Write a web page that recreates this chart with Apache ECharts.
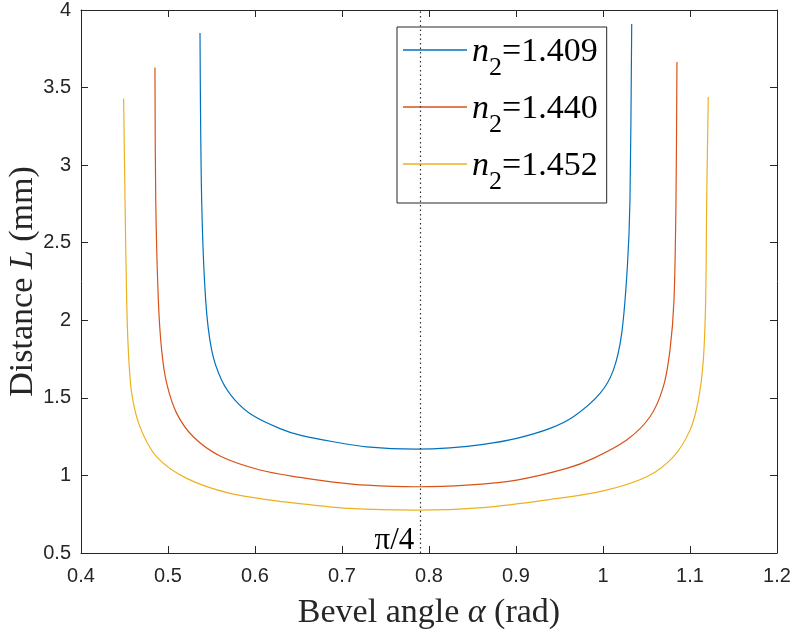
<!DOCTYPE html>
<html>
<head>
<meta charset="utf-8">
<script src="https://cdn.jsdelivr.net/npm/echarts@6/dist/echarts.min.js"></script>
<style>
html, body { margin: 0; padding: 0; background: #fff; }
#chart { width: 791px; height: 635px; }
</style>
</head>
<body>
<div id="chart"></div>
<script>
// values
var names = ['1.409', '1.440', '1.452'];
var colors = ['#0072BD', '#D95319', '#EDB120'];

var blueX = [0.5368, 0.5387, 0.5433, 0.5502, 0.5617, 0.5770, 0.5977, 0.6287, 0.6517, 0.690, 0.7284, 0.7847, 0.8241, 0.8624, 0.9008, 0.9391, 0.9659, 0.9966, 1.0119, 1.0215, 1.0280, 1.031, 1.033];
var blueY = [3.852, 2.775, 2.130, 1.808, 1.614, 1.486, 1.386, 1.302, 1.260, 1.217, 1.184, 1.170, 1.178, 1.200, 1.239, 1.303, 1.378, 1.529, 1.679, 1.916, 2.345, 2.775, 3.91];

var redX = [0.485, 0.4859, 0.4889, 0.4927, 0.4985, 0.5100, 0.5291, 0.5598, 0.6057, 0.6517, 0.690, 0.7284, 0.7847, 0.8433, 0.9008, 0.9582, 0.9889, 1.0272, 1.0540, 1.0693, 1.0770, 1.0816, 1.0839, 1.085];
var redY = [3.63, 2.775, 2.130, 1.808, 1.593, 1.400, 1.249, 1.125, 1.035, 0.987, 0.957, 0.937, 0.927, 0.937, 0.970, 1.045, 1.110, 1.228, 1.378, 1.571, 1.808, 2.130, 2.775, 3.665];

var yellowX = [0.449, 0.4506, 0.4525, 0.4544, 0.4583, 0.4678, 0.4870, 0.5215, 0.5713, 0.6249, 0.6517, 0.7092, 0.7847, 0.8624, 0.9391, 1.0003, 1.0502, 1.0808, 1.1, 1.1096, 1.1153, 1.118, 1.1192, 1.121];
var yellowY = [3.43, 2.775, 2.130, 1.808, 1.529, 1.313, 1.120, 0.981, 0.884, 0.836, 0.818, 0.787, 0.776, 0.793, 0.845, 0.900, 0.991, 1.120, 1.292, 1.486, 1.743, 2.130, 2.775, 3.44];

var piQuarter = 0.7854;

function pairs(xs, ys) {
  return xs.map(function (x, i) { return [x, ys[i]]; });
}

var axisColor = '#262626';
var serif = '"Liberation Serif", "Times New Roman", serif';
var sans = '"Liberation Sans", Arial, sans-serif';

var chartDom = document.getElementById('chart');
var chart = echarts.init(chartDom);

function boxAxis(pos, min, max, interval) {
  return {
    type: 'value',
    position: pos,
    min: min,
    max: max,
    interval: interval,
    axisLine: { show: true, onZero: false, lineStyle: { color: axisColor, width: 1 } },
    axisTick: { show: true, inside: true, length: 7, lineStyle: { color: axisColor } },
    axisLabel: { show: false },
    splitLine: { show: false }
  };
}

function curve(i, xs, ys) {
  return {
    name: names[i], type: 'line', data: pairs(xs, ys),
    showSymbol: false, symbol: 'none',
    smooth: 0.3,
    lineStyle: { color: colors[i], width: 1.2 }, itemStyle: { color: colors[i] }
  };
}

var option = {
  animation: false,
  backgroundColor: '#fff',
  grid: { left: 81, right: 14, top: 10, bottom: 82, containLabel: false, outerBoundsMode: 'none' },
  xAxis: [
    {
      type: 'value',
      position: 'bottom',
      min: 0.4,
      max: 1.2,
      interval: 0.1,
      name: 'Bevel angle {i|α} (rad)',
      nameLocation: 'middle',
      nameGap: 43,
      nameMoveOverlap: false,
      nameTextStyle: {
        fontFamily: serif, fontSize: 34, color: axisColor,
        rich: { i: { fontFamily: serif, fontSize: 34, fontStyle: 'italic', color: axisColor } }
      },
      axisLine: { show: true, onZero: false, lineStyle: { color: axisColor, width: 1 } },
      axisTick: { show: true, inside: true, length: 7, lineStyle: { color: axisColor } },
      axisLabel: { fontFamily: sans, fontSize: 20, color: axisColor, margin: 13 },
      splitLine: { show: false }
    },
    boxAxis('top', 0.4, 1.2, 0.1)
  ],
  yAxis: [
    {
      type: 'value',
      position: 'left',
      min: 0.5,
      max: 4,
      interval: 0.5,
      name: 'Distance {i|L} (mm)',
      nameLocation: 'middle',
      nameRotate: 90,
      nameGap: 41,
      nameMoveOverlap: false,
      nameTextStyle: {
        fontFamily: serif, fontSize: 34, color: axisColor,
        rich: { i: { fontFamily: serif, fontSize: 34, fontStyle: 'italic', color: axisColor } }
      },
      axisLine: { show: true, onZero: false, lineStyle: { color: axisColor, width: 1 } },
      axisTick: { show: true, inside: true, length: 7, lineStyle: { color: axisColor } },
      axisLabel: { fontFamily: sans, fontSize: 20, color: axisColor, margin: 10 },
      splitLine: { show: false }
    },
    boxAxis('right', 0.5, 4, 0.5)
  ],
  legend: {
    orient: 'vertical',
    left: 397,
    top: 27,
    padding: [8, 9, 8, 6],
    itemGap: 11,
    itemWidth: 64,
    itemHeight: 1.5,
    icon: 'rect',
    backgroundColor: '#fff',
    borderColor: axisColor,
    borderWidth: 1,
    borderRadius: 0,
    data: names,
    formatter: function (name) {
      return '{n|n}{s|2}{t|=' + name + '}';
    },
    textStyle: {
      rich: {
        n: { fontFamily: serif, fontSize: 34, fontStyle: 'italic', color: '#000', lineHeight: 30, verticalAlign: 'top' },
        s: { fontFamily: serif, fontSize: 26, color: '#000', lineHeight: 24, padding: [20, 0, 0, 0], verticalAlign: 'top' },
        t: { fontFamily: serif, fontSize: 34, color: '#000', lineHeight: 30, verticalAlign: 'top' }
      }
    }
  },
  series: [
    curve(0, blueX, blueY),
    curve(1, redX, redY),
    curve(2, yellowX, yellowY)
  ]
};

// dotted guide at pi/4
option.series[0].markLine = {
  silent: true, symbol: ['none', 'none'], label: { show: false },
  lineStyle: { type: [1.5, 3], color: '#333', width: 1.2 },
  data: [{ xAxis: piQuarter }]
};

chart.setOption(option);

// pi/4 label sits on the x axis, just left of the dotted line
var p = chart.convertToPixel({ xAxisIndex: 0, yAxisIndex: 0 }, [piQuarter, 0.5]);
chart.setOption({
  graphic: [{
    type: 'text',
    silent: true,
    style: {
      text: 'π/4',
      x: p[0] - 2,
      y: p[1] + 3,
      align: 'right',
      verticalAlign: 'bottom',
      font: '31px ' + serif,
      fill: '#000'
    }
  }]
});
</script>
</body>
</html>
